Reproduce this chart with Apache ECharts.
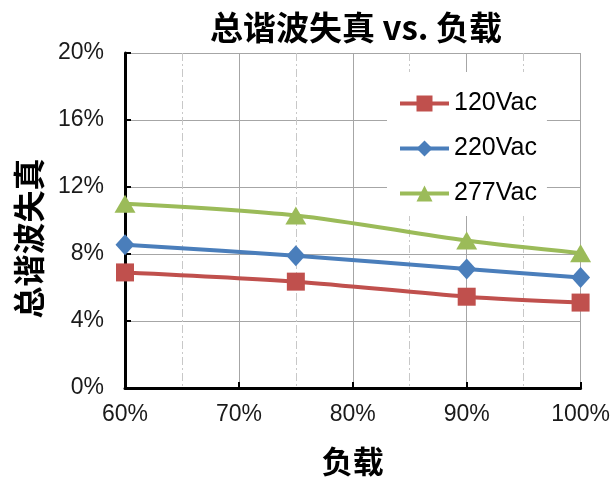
<!DOCTYPE html>
<html>
<head>
<meta charset="utf-8">
<script src="https://cdn.jsdelivr.net/npm/echarts@6/dist/echarts.min.js"></script>
<style>
  html, body { margin: 0; padding: 0; background: #fff; }
  #chart { width: 613px; height: 485px; }
</style>
</head>
<body>
<div id="chart"></div>
<script>
// load levels (%)
const loads = [60, 75, 90, 100];
// THD (%) per input voltage
const thd120 = [6.9, 6.35, 5.45, 5.1];
const thd220 = [8.55, 7.9, 7.1, 6.6];
const thd277 = [11.0, 10.3, 8.8, 8.05];
const seriesNames = ["120Vac", "220Vac", "277Vac"];

const numFont = "'Liberation Sans', Arial, sans-serif";
const cjkFont = "'Noto Sans CJK SC', sans-serif";

const chart = echarts.init(document.getElementById("chart"));

const pairs = vals => loads.map((x, i) => [x, vals[i]]);

const option = {
  animation: false,
  backgroundColor: "#ffffff",
  title: {
    text: "总谐波失真 vs. 负载",
    left: 351,
    textAlign: "center",
    top: 6,
    textStyle: {
      fontFamily: cjkFont,
      fontWeight: "bold",
      fontSize: 33,
      color: "#000",
    },
  },
  legend: {
    orient: "vertical",
    left: 387,
    top: 72,
    padding: [19, 10, 10, 11],
    backgroundColor: "#ffffff",
    itemWidth: 49,
    itemHeight: 20,
    itemGap: 20,
    data: seriesNames,
    lineStyle: { width: 4 },
    textStyle: {
      fontFamily: numFont,
      fontSize: 25,
      lineHeight: 24,
      color: "#000",
    },
  },
  grid: {
    left: 125,
    right: 32,
    top: 53,
    bottom: 97,
  },
  xAxis: {
    type: "value",
    min: 60,
    max: 100,
    interval: 10,
    name: "负载",
    nameLocation: "middle",
    nameGap: 58,
    nameTextStyle: {
      fontFamily: cjkFont,
      fontWeight: "bold",
      fontSize: 31,
      color: "#000",
    },
    axisLine: { show: true, lineStyle: { color: "#000", width: 3 } },
    axisTick: { show: true, inside: true, length: 6, lineStyle: { color: "#000", width: 2 } },
    axisLabel: {
      formatter: "{value}%",
      margin: 15,
      fontFamily: numFont,
      fontSize: 23,
      color: "#1a1a1a",
    },
    splitLine: { show: true, lineStyle: { color: "#a6a6a6", width: 1 } },
    minorTick: { show: false, splitNumber: 2 },
    minorSplitLine: {
      show: true,
      lineStyle: { color: "#c8c8c8", width: 1, type: [8, 3, 2, 3] },
    },
  },
  yAxis: {
    type: "value",
    min: 0,
    max: 20,
    interval: 4,
    name: "总谐波失真",
    nameLocation: "middle",
    nameRotate: 90,
    nameGap: 80,
    nameTextStyle: {
      fontFamily: cjkFont,
      fontWeight: "bold",
      fontSize: 32,
      color: "#000",
      padding: [0, 36, 0, 0],
    },
    axisLine: { show: true, lineStyle: { color: "#000", width: 3 } },
    axisTick: { show: true, inside: true, length: 6, lineStyle: { color: "#000", width: 2 } },
    axisLabel: {
      formatter: "{value}%",
      margin: 21,
      fontFamily: numFont,
      fontSize: 23,
      color: "#1a1a1a",
    },
    splitLine: { show: true, lineStyle: { color: "#a6a6a6", width: 1 } },
  },
  series: [
    {
      name: seriesNames[0],
      type: "line",
      smooth: 0.3,
      symbol: "rect",
      symbolSize: 18,
      color: "#c0504d",
      lineStyle: { width: 4, color: "#c0504d" },
      itemStyle: { color: "#c0504d" },
      data: pairs(thd120),
    },
    {
      name: seriesNames[1],
      type: "line",
      smooth: 0.3,
      symbol: "diamond",
      symbolSize: [19, 21],
      color: "#4a7ebb",
      lineStyle: { width: 4, color: "#4a7ebb" },
      itemStyle: { color: "#4a7ebb" },
      data: pairs(thd220),
    },
    {
      name: seriesNames[2],
      type: "line",
      smooth: 0.3,
      symbol: "triangle",
      symbolSize: [21, 18],
      color: "#9bbb59",
      lineStyle: { width: 4, color: "#9bbb59" },
      itemStyle: { color: "#9bbb59" },
      data: pairs(thd277),
    },
  ],
};

chart.setOption(option);
</script>
</body>
</html>
